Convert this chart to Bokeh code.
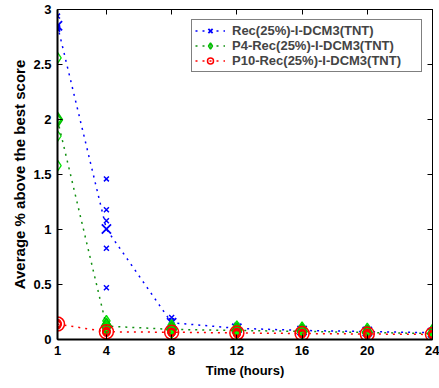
from bokeh.plotting import figure
from bokeh.models import FixedTicker, LinearAxis, Legend, LegendItem, Range1d, ColumnDataSource
from bokeh.embed import file_html
from bokeh.resources import INLINE

# ---------------- data ----------------
hours = [1, 4, 8, 12, 16, 20, 24]

# individual runs (5 per time budget)
rec_runs = [
    [2.94, 2.83, 2.83, 2.84, 2.82],
    [1.46, 1.18, 1.08, 0.83, 0.47],
    [0.20, 0.17, 0.14, 0.13, 0.12],
    [0.13, 0.11, 0.10, 0.09, 0.08],
    [0.11, 0.09, 0.08, 0.07, 0.06],
    [0.10, 0.08, 0.07, 0.06, 0.05],
    [0.09, 0.07, 0.06, 0.05, 0.04],
]
p4_runs = [
    [2.56, 2.00, 2.00, 1.85, 1.58],
    [0.17, 0.14, 0.12, 0.10, 0.08],
    [0.13, 0.10, 0.09, 0.08, 0.06],
    [0.12, 0.09, 0.08, 0.07, 0.05],
    [0.11, 0.08, 0.07, 0.06, 0.05],
    [0.10, 0.07, 0.06, 0.05, 0.04],
    [0.09, 0.06, 0.05, 0.04, 0.03],
]
p10_runs = [
    [0.15, 0.14, 0.14, 0.13, 0.14],
    [0.08, 0.07, 0.07, 0.06, 0.07],
    [0.07, 0.07, 0.06, 0.06, 0.07],
    [0.07, 0.06, 0.06, 0.05, 0.06],
    [0.06, 0.06, 0.05, 0.05, 0.05],
    [0.06, 0.05, 0.05, 0.04, 0.05],
    [0.05, 0.05, 0.04, 0.04, 0.05],
]
series_names = ["Rec(25%)-I-DCM3(TNT)", "P4-Rec(25%)-I-DCM3(TNT)", "P10-Rec(25%)-I-DCM3(TNT)"]
y_ticks = [0, 0.5, 1, 1.5, 2, 2.5, 3]
y_tick_labels = ["0", "0.5", "1", "1.5", "2", "2.5", "3"]
x_label = "Time (hours)"
y_label = "Average % above the best score"

# ---------------- figure ----------------
FONT = "Liberation Sans"
p = figure(width=439, height=388, output_backend="svg", toolbar_location=None,
           x_range=Range1d(1, 24), y_range=Range1d(0, 3),
           min_border_left=57, min_border_right=7, min_border_top=9, min_border_bottom=49)
p.xgrid.visible = False
p.ygrid.visible = False
p.outline_line_color = "black"
p.outline_line_width = 1
p.background_fill_color = "white"
p.border_fill_color = "white"


def flat(runs):
    xs, ys = [], []
    for h, r in zip(hours, runs):
        for v in r:
            xs.append(h)
            ys.append(v)
    return xs, ys


def means(runs):
    return [sum(r) / len(r) for r in runs]


items = []

# Rec (blue x)
xs, ys = flat(rec_runs)
p.scatter(xs, ys, marker="x", size=7, line_color="#0000ff", line_width=1.5)
l1 = p.line(hours, means(rec_runs), line_color="#0000ff", line_dash="2 5", line_width=1.5)
m1 = p.scatter(hours, means(rec_runs), marker="x", size=13, line_color="#0000ff", line_width=1.8)
items.append(LegendItem(label=series_names[0], renderers=[l1, m1]))

# P4 (green diamond); tightly clustered runs appear as a solid green blob
xs, ys = flat(p4_runs)
src4 = ColumnDataSource(dict(x=xs, y=ys, fa=[0.0 if x == hours[0] else 0.55 for x in xs]))
p.scatter("x", "y", source=src4, marker="diamond", size=11, fill_color="#00ff00",
          fill_alpha="fa", line_color="#00e000", line_width=1.3)
l2 = p.line(hours, means(p4_runs), line_color="#109010", line_dash="2 5", line_width=1.5)
m2 = p.scatter(hours, means(p4_runs), marker="diamond", size=15, fill_color=None,
               line_color="#00c000", line_width=1.5)
items.append(LegendItem(label=series_names[1], renderers=[l2, m2]))

# P10 (red circle)
xs, ys = flat(p10_runs)
p.scatter(xs, ys, marker="circle", size=7, fill_color=None, line_color="#ff0000", line_width=1.3)
l3 = p.line(hours, means(p10_runs), line_color="#ff0000", line_dash="2 5", line_width=1.5)
m3 = p.scatter(hours, means(p10_runs), marker="circle", size=14, fill_color=None,
               line_color="#ff0000", line_width=1.5)
items.append(LegendItem(label=series_names[2], renderers=[l3, m3]))

legend = Legend(items=items, location="top_right", margin=10, padding=3, spacing=0,
                glyph_width=30, glyph_height=15, label_height=15, label_width=186,
                label_standoff=7,
                label_text_font=FONT, label_text_font_style="bold",
                label_text_font_size="13px", border_line_color="black",
                border_line_width=1, background_fill_alpha=1)
p.add_layout(legend, "center")

# axes
overrides = {float(t): s for t, s in zip(y_ticks, y_tick_labels)}
for ax in [p.xaxis[0], p.yaxis[0]]:
    ax.major_tick_in = 5
    ax.major_tick_out = 0
    ax.minor_tick_in = 0
    ax.minor_tick_out = 0
    ax.axis_line_width = 2
    ax.major_tick_line_width = 1
    ax.major_label_text_font = FONT
    ax.major_label_text_font_style = "bold"
    ax.major_label_text_font_size = "13px"
    ax.major_label_text_color = "black"
    ax.axis_label_text_font = FONT
    ax.axis_label_text_font_style = "bold"
    ax.axis_label_text_color = "black"

p.xaxis[0].ticker = FixedTicker(ticks=hours)
p.xaxis[0].axis_label = x_label
p.xaxis[0].axis_label_text_font_size = "13px"
p.xaxis[0].major_label_standoff = 6
p.xaxis[0].axis_label_standoff = 5
p.yaxis[0].ticker = FixedTicker(ticks=y_ticks)
p.yaxis[0].major_label_overrides = overrides
p.yaxis[0].axis_label = y_label
p.yaxis[0].axis_label_text_font_size = "15px"
p.yaxis[0].major_label_standoff = 6
p.yaxis[0].axis_label_standoff = 2

# mirrored ticks (box on), no labels
top = LinearAxis(ticker=FixedTicker(ticks=hours), major_tick_in=5, major_tick_out=0,
                 minor_tick_in=0, minor_tick_out=0,
                 major_label_overrides={float(h): "" for h in hours},
                 major_label_standoff=0, axis_line_width=1)
right = LinearAxis(ticker=FixedTicker(ticks=y_ticks), major_tick_in=5, major_tick_out=0,
                   minor_tick_in=0, minor_tick_out=0,
                   major_label_overrides={float(t): "" for t in y_ticks},
                   major_label_standoff=0, axis_line_width=1)
p.add_layout(top, "above")
p.add_layout(right, "right")

open("out.html", "w").write(file_html(p, INLINE))
